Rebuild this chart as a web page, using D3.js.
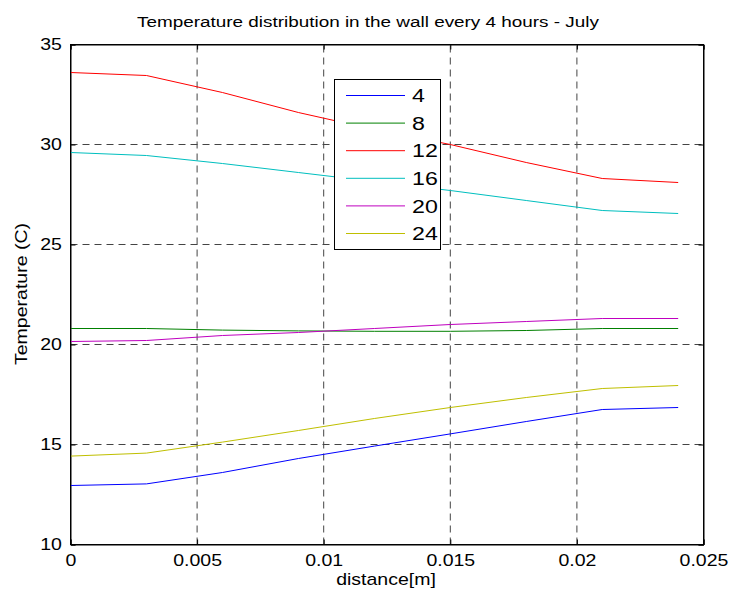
<!DOCTYPE html>
<html>
<head>
<meta charset="utf-8">
<script src="https://cdn.jsdelivr.net/npm/d3@7"></script>
<style>
body { margin: 0; background: #fff; }
text { font-family: "Liberation Sans", Arial, sans-serif; fill: #000; }
</style>
</head>
<body>
<script>
const width = 731;
const height = 595;

// distance through the wall [m]
const distance = [0, 0.003, 0.006, 0.009, 0.012, 0.015, 0.018, 0.021, 0.024];

// hour of the day for each curve
const hours = ["4", "8", "12", "16", "20", "24"];

// temperatures (C)
const temp4  = [12.95, 13.03, 13.6, 14.3, 14.92, 15.53, 16.15, 16.75, 16.85];
const temp8  = [20.8, 20.8, 20.72, 20.68, 20.66, 20.66, 20.7, 20.8, 20.8];
const temp12 = [33.6, 33.45, 32.6, 31.6, 30.75, 30.0, 29.1, 28.3, 28.1];
const temp16 = [29.6, 29.45, 29.05, 28.6, 28.15, 27.7, 27.2, 26.7, 26.55];
const temp20 = [20.15, 20.2, 20.45, 20.6, 20.8, 21.0, 21.15, 21.3, 21.3];
const temp24 = [14.42, 14.57, 15.12, 15.7, 16.3, 16.85, 17.35, 17.8, 17.95];

const series = [temp4, temp8, temp12, temp16, temp20, temp24];

// matlab default line colours
const colors = ["#0000ff", "#008000", "#ff0000", "#00bfbf", "#bf00bf", "#bfbf00"];

const xTicks = [0, 0.005, 0.01, 0.015, 0.02, 0.025];
const yTicks = [10, 15, 20, 25, 30, 35];

// the original figure text is a bit wider than it is tall
const sx = 1.22;

const x = d3.scaleLinear()
	.domain([0, 0.025])
	.range([70.5, 703.5]);

const y = d3.scaleLinear()
	.domain([10, 35])
	.range([544.5, 44.5]);

const svg = d3.select("body")
	.append("svg")
	.attr("width", width)
	.attr("height", height);

// grid
const grid = svg.append("g")
	.attr("stroke", "#444")
	.attr("stroke-width", 1)
	.attr("stroke-dasharray", "7,5");

grid.selectAll("line.vx")
	.data(xTicks.slice(1, -1))
	.enter()
	.append("line")
	.attr("x1", (d) => x(d))
	.attr("x2", (d) => x(d))
	.attr("y1", y(10))
	.attr("y2", y(35));

grid.selectAll("line.hy")
	.data(yTicks.slice(1, -1))
	.enter()
	.append("line")
	.attr("x1", x(0))
	.attr("x2", x(0.025))
	.attr("y1", (d) => y(d))
	.attr("y2", (d) => y(d));

// axes, ticks pointing inwards
svg.append("g")
	.attr("transform", `translate(0,${y(10)})`)
	.call(d3.axisBottom(x).tickValues(xTicks).tickSize(-5).tickPadding(10)
		.tickFormat((d) => d === 0 ? "0" : String(+d.toFixed(3))));

svg.append("g")
	.attr("transform", `translate(${x(0)},0)`)
	.call(d3.axisLeft(y).tickValues(yTicks).tickSize(-5).tickPadding(7));

svg.append("g")
	.attr("transform", `translate(0,${y(35)})`)
	.call(d3.axisTop(x).tickValues(xTicks).tickSize(-5).tickFormat(""));

svg.append("g")
	.attr("transform", `translate(${x(0.025)},0)`)
	.call(d3.axisRight(y).tickValues(yTicks).tickSize(-5).tickFormat(""));

svg.selectAll(".domain").attr("stroke", "#000");
svg.selectAll(".tick line").attr("stroke", "#000");
svg.selectAll(".tick text")
	.style("font-size", "16px")
	.attr("fill", "#000")
	.attr("transform", `scale(${sx},1)`);

// curves
const line = d3.line()
	.x((d, i) => x(distance[i]))
	.y((d) => y(d));

svg.selectAll("path.curve")
	.data(series)
	.enter()
	.append("path")
	.attr("class", "curve")
	.attr("d", line)
	.attr("fill", "none")
	.attr("stroke", (d, i) => colors[i])
	.attr("stroke-width", 1);

// frame
svg.append("rect")
	.attr("x", x(0))
	.attr("y", y(35))
	.attr("width", x(0.025) - x(0))
	.attr("height", y(10) - y(35))
	.attr("fill", "none")
	.attr("stroke", "#000");

// legend
const legend = svg.append("g");

legend.append("rect")
	.attr("x", 334.5)
	.attr("y", 79.5)
	.attr("width", 106)
	.attr("height", 170)
	.attr("fill", "#fff")
	.attr("stroke", "#000");

const rows = legend.selectAll("g.row")
	.data(hours)
	.enter()
	.append("g")
	.attr("transform", (d, i) => `translate(0,${95.5 + i * 27.6})`);

rows.append("line")
	.attr("x1", 346)
	.attr("x2", 405)
	.attr("stroke", (d, i) => colors[i]);

rows.append("text")
	.attr("transform", `translate(412,0) scale(${sx},1)`)
	.attr("dy", "0.35em")
	.style("font-size", "19px")
	.text((d) => d);

// titles
svg.append("text")
	.attr("transform", `translate(368,27) scale(${sx},1)`)
	.attr("text-anchor", "middle")
	.style("font-size", "15.5px")
	.text("Temperature distribution in the wall every 4 hours - July");

svg.append("text")
	.attr("transform", `translate(386,585) scale(${sx},1)`)
	.attr("text-anchor", "middle")
	.style("font-size", "16px")
	.text("distance[m]");

svg.append("text")
	.attr("transform", `translate(27,294) rotate(-90) scale(${sx},1)`)
	.attr("text-anchor", "middle")
	.style("font-size", "16px")
	.text("Temperature (C)");
</script>
</body>
</html>
